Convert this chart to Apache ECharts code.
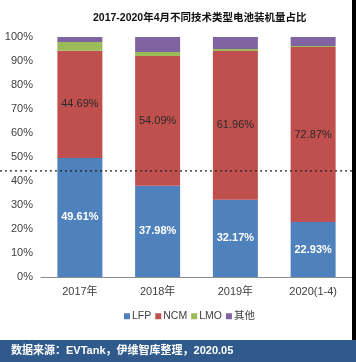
<!DOCTYPE html>
<html>
<head>
<meta charset="utf-8">
<script src="https://cdn.jsdelivr.net/npm/echarts@6/dist/echarts.min.js"></script>
<style>
html,body{margin:0;padding:0;background:#fff;}
#main{width:356px;height:362px;}
</style>
</head>
<body>
<div id="main"></div>
<script>
var categories = ['2017年', '2018年', '2019年', '2020(1-4)'];
var lfp = [49.61, 37.98, 32.17, 22.93];
var ncm = [44.69, 54.09, 61.96, 72.87];
var lmo = [3.6, 1.7, 0.9, 0.4];
var other = [2.1, 6.23, 4.97, 3.8];
var yTicks = [0, 10, 20, 30, 40, 50, 60, 70, 80, 90, 100];
var dottedLevel = 44.2;
var titleText = '2017-2020年4月不同技术类型电池装机量占比';
var sourceText = '数据来源：EVTank，伊维智库整理，2020.05';

var FONT = '"Liberation Sans", Arial, "Noto Sans CJK SC", sans-serif';
var chart = echarts.init(document.getElementById('main'), null, {renderer: 'canvas'});

function pctFmt(p) { return p.value.toFixed(2) + '%'; }

var option = {
  animation: false,
  backgroundColor: '#ffffff',
  textStyle: {fontFamily: FONT},
  title: {
    text: titleText,
    left: 88, top: 8,
    textStyle: {fontSize: 10.5, fontWeight: 'bold', color: '#111', fontFamily: FONT}
  },
  grid: {left: 41, right: 4, top: 37, bottom: 85, containLabel: false},
  legend: {
    data: ['LFP', 'NCM', 'LMO', '其他'],
    left: 119, top: 306,
    itemWidth: 6, itemHeight: 6, itemGap: 4,
    icon: 'rect',
    textStyle: {fontSize: 10.5, color: '#404040', fontFamily: FONT, padding: [0, 0, 0, -3]}
  },
  xAxis: {
    type: 'category',
    data: categories,
    axisLine: {lineStyle: {color: '#8c8c8c', width: 1}},
    axisTick: {show: false},
    axisLabel: {fontSize: 11, color: '#404040', margin: 9, fontFamily: FONT}
  },
  yAxis: {
    type: 'value',
    min: 0, max: 100, interval: 10,
    axisLine: {show: false},
    axisTick: {show: false},
    splitLine: {show: false},
    axisLabel: {fontSize: 11, color: '#404040', margin: 8, fontFamily: FONT,
      formatter: function (v) { return yTicks.indexOf(v) >= 0 ? v + '%' : ''; }}
  },
  series: [
    {name: 'LFP', type: 'bar', stack: 'total', barWidth: 45, data: lfp,
      itemStyle: {color: '#4f81bd'},
      label: {show: true, position: 'inside', formatter: pctFmt, color: '#ffffff',
        fontSize: 11, fontWeight: 'bold', fontFamily: FONT}},
    {name: 'NCM', type: 'bar', stack: 'total', barWidth: 45, data: ncm,
      itemStyle: {color: '#c0504d'},
      label: {show: true, position: 'inside', formatter: pctFmt, color: '#2a2a2a',
        fontSize: 11, fontFamily: FONT}},
    {name: 'LMO', type: 'bar', stack: 'total', barWidth: 45, data: lmo,
      itemStyle: {color: '#9bbb59'}},
    {name: '其他', type: 'bar', stack: 'total', barWidth: 45, data: other,
      itemStyle: {color: '#8064a2'}}
  ]
};
chart.setOption(option);

var dotY = chart.convertToPixel({yAxisIndex: 0}, dottedLevel);
chart.setOption({
  graphic: [
    {type: 'line', shape: {x1: 0, y1: dotY, x2: 352, y2: dotY}, z: 100,
      style: {stroke: '#222', lineWidth: 1.2, lineDash: [2, 3]}},
    {type: 'rect', shape: {x: 352, y: 0, width: 4, height: 340}, style: {fill: '#000'}, z: 100},
    {type: 'rect', shape: {x: 0, y: 340, width: 356, height: 22}, style: {fill: '#2f5a8b'}, z: 100},
    {type: 'text', x: 11, y: 351, z: 101,
      style: {text: sourceText, fill: '#ffffff', fontSize: 11, fontWeight: 'bold',
        fontFamily: FONT, verticalAlign: 'middle'}}
  ]
});
</script>
</body>
</html>
